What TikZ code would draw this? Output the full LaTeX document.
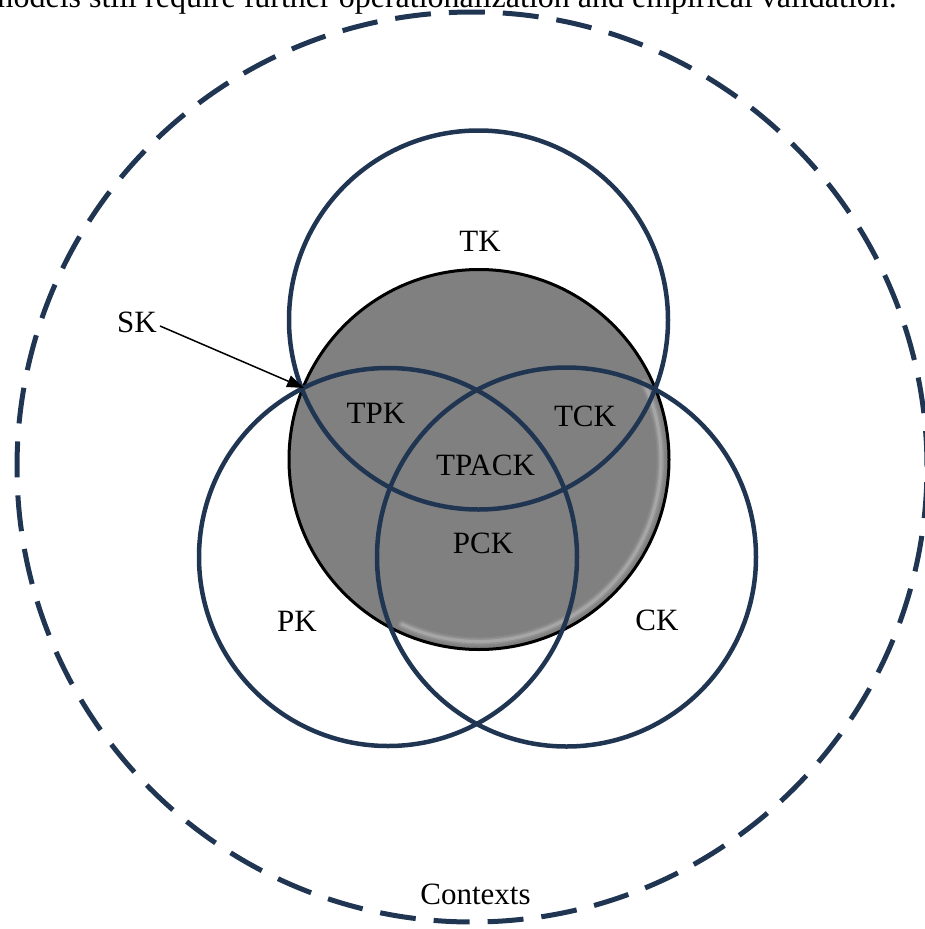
\documentclass[tikz,border=0pt]{standalone}
\usepackage{fontspec}
\setmainfont{Liberation Serif}
\usetikzlibrary{arrows.meta}
\definecolor{navy}{HTML}{1F3551}
\definecolor{discgray}{HTML}{808080}
\begin{document}
\begin{tikzpicture}[x=1pt,y=-1pt,
  lbl/.style={font=\fontsize{31}{36}\selectfont, inner sep=0pt},
  ring/.style={circle, draw=navy, line width=4.5pt, inner sep=0pt, minimum size=#1},
  disc/.style={circle, draw=black, line width=3pt, fill=discgray, inner sep=0pt, minimum size=#1},
  ctx/.style={circle, draw=navy, line width=5pt, dash pattern=on 36pt off 18pt, inner sep=0pt, minimum size=#1}]
\useasboundingbox (0,0) rectangle (925,929);

% running text of the page, cut by the top edge
\node[font=\fontsize{32}{36}\selectfont, inner sep=0pt, anchor=base east] (caption) at (897,7.5) {models still require further operationalization and empirical validation.};

% outer context boundary
\node[ctx=910] (contexts) at (472,467) {};

% shaded central disc (SK); y points down, so angles run clockwise on the page
\node[disc=380] (sk) at (479,459.5) {};
\foreach \w/\o in {9/0.06, 6/0.10, 3/0.18}
  \draw[white, opacity=\o, line width=\w pt, line cap=round] (sk.center) ++(115:182) arc[start angle=115, end angle=-25, radius=182];

% the three knowledge circles
\node[ring=379] (tk) at (478.5,320) {};
\node[ring=378] (pk) at (388,557) {};
\node[ring=379] (ck) at (566.5,557) {};

% labels
\node[lbl] (tkl) at (480,241) {TK};
\node[lbl] (pkl) at (297,621) {PK};
\node[lbl] (ckl) at (657,620) {CK};
\node[lbl] (tpk) at (376,413) {TPK};
\node[lbl] (tck) at (585,416) {TCK};
\node[lbl] (tpack) at (485.5,465.5) {TPACK};
\node[lbl] (pck) at (483,543) {PCK};
\node[lbl] (ctxl) at (475.5,894) {Contexts};
\node[lbl] (skl) at (137,322) {SK};

% pointer to the shaded disc
\coordinate (skpt) at (304,388);
\draw[black, line width=1.5pt, -{Triangle[length=17pt,width=12pt]}] (skl.east) ++(3,4) -- (skpt);
\end{tikzpicture}
\end{document}
